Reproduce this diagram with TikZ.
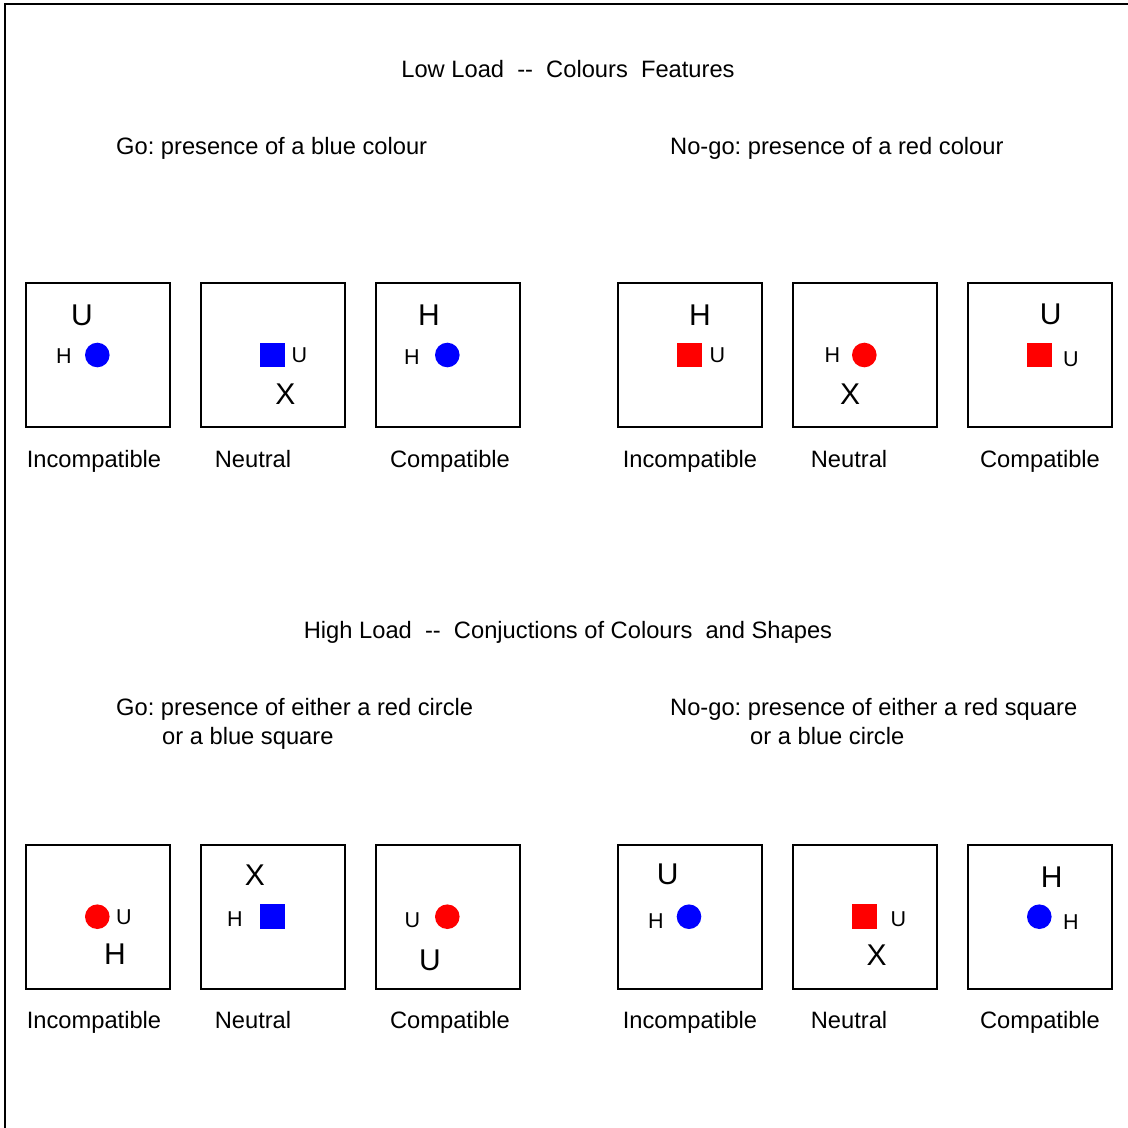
\documentclass[tikz,border=0pt]{standalone}
\usepackage{fontspec}
\setmainfont{Liberation Sans}
\frenchspacing
\begin{document}
\begin{tikzpicture}[x=1pt,y=-1pt,
  txt/.style={inner sep=0pt, text height=17pt, text depth=0pt,
    font=\fontsize{23.7}{28}\selectfont},
  big/.style={inner sep=0pt, text height=21.5pt, text depth=0pt,
    font=\fontsize{30}{34}\selectfont},
  small/.style={inner sep=0pt, text height=15.4pt, text depth=0pt,
    font=\fontsize{21.5}{26}\selectfont},
  panel/.style={draw, line width=2pt, minimum size=144pt, inner sep=0pt},
  bdot/.style={circle, fill=blue, minimum size=24.6pt, inner sep=0pt},
  rdot/.style={circle, fill=red, minimum size=24.6pt, inner sep=0pt},
  bsq/.style={rectangle, fill=blue, minimum size=24.6pt, inner sep=0pt},
  rsq/.style={rectangle, fill=red, minimum size=24.6pt, inner sep=0pt}]
\useasboundingbox (0,0) rectangle (1128,1128);
% outer frame (left and top edges)
\draw[line width=2pt] (4.5,1128) -- (4.5,3.5) -- (1128,3.5);

% ---------- headings ----------
\node[txt] (t1) at (568,69) {Low Load\ \ -{}-\ \ Colours\ \ Features};
\node[txt, anchor=west] (g1) at (116,146) {Go: presence of a blue colour};
\node[txt, anchor=west] (n1) at (670,146) {No-go: presence of a red colour};
\node[txt] (t2) at (568,630) {High Load\ \ -{}-\ \ Conjuctions of Colours\ \ and Shapes};
\node[txt, anchor=west] (g2a) at (116,707) {Go: presence of either a red circle};
\node[txt, anchor=west] (g2b) at (162,736) {or a blue square};
\node[txt, anchor=west] (n2a) at (670,707) {No-go: presence of either a red square};
\node[txt, anchor=west] (n2b) at (750,736) {or a blue circle};

% ---------- panels ----------
\foreach \x/\n in {97.5/1,272.5/2,447.5/3,689.5/4,864.5/5,1039.5/6}{
  \node[panel] (a\n) at (\x,355) {};
  \node[panel] (b\n) at (\x,916.5) {};
}
\foreach \x/\n/\t in {94/1/Incompatible,253/2/Neutral,450/3/Compatible,
                      690/4/Incompatible,849/5/Neutral,1040/6/Compatible}{
  \node[txt] (la\n) at (\x,459) {\t};
  \node[txt] (lb\n) at (\x,1020) {\t};
}

% ---------- low load contents ----------
% panel a1
\node[big] (a1L) at (82,315) {U};
\node[small] (a1s) at (64,356) {H};
\node[bdot] (a1c) at (97.3,355) {};
% panel a2
\node[bsq] (a2q) at (272.5,355) {};
\node[small] (a2s) at (299.5,355) {U};
\node[big] (a2L) at (285.5,393.5) {X};
% panel a3
\node[big] (a3L) at (429,314.5) {H};
\node[small] (a3s) at (412,357) {H};
\node[bdot] (a3c) at (447.3,355) {};
% panel a4
\node[big] (a4L) at (700,315) {H};
\node[rsq] (a4q) at (689.2,355) {};
\node[small] (a4s) at (717.3,355) {U};
% panel a5
\node[small] (a5s) at (832.3,355) {H};
\node[rdot] (a5c) at (864.3,355) {};
\node[big] (a5L) at (850,393.5) {X};
% panel a6
\node[big] (a6L) at (1050.7,313.5) {U};
\node[rsq] (a6q) at (1039.2,355) {};
\node[small] (a6s) at (1071,358.3) {U};

% ---------- high load contents ----------
% panel b1
\node[rdot] (b1c) at (97.3,916.7) {};
\node[small] (b1s) at (124,916.7) {U};
\node[big] (b1L) at (115,953.5) {H};
% panel b2
\node[big] (b2L) at (255,874.3) {X};
\node[small] (b2s) at (235,919) {H};
\node[bsq] (b2q) at (272.5,916.5) {};
% panel b3
\node[small] (b3s) at (412.3,920) {U};
\node[rdot] (b3c) at (447.3,916.7) {};
\node[big] (b3L) at (430,960) {U};
% panel b4
\node[big] (b4L) at (667.7,873.3) {U};
\node[small] (b4s) at (656,921) {H};
\node[bdot] (b4c) at (689,916.7) {};
% panel b5
\node[rsq] (b5q) at (864.2,916.7) {};
\node[small] (b5s) at (898.3,918.3) {U};
\node[big] (b5L) at (876.7,954.3) {X};
% panel b6
\node[big] (b6L) at (1051.7,876.7) {H};
\node[bdot] (b6c) at (1039.3,916.7) {};
\node[small] (b6s) at (1071,921.7) {H};
\end{tikzpicture}
\end{document}
